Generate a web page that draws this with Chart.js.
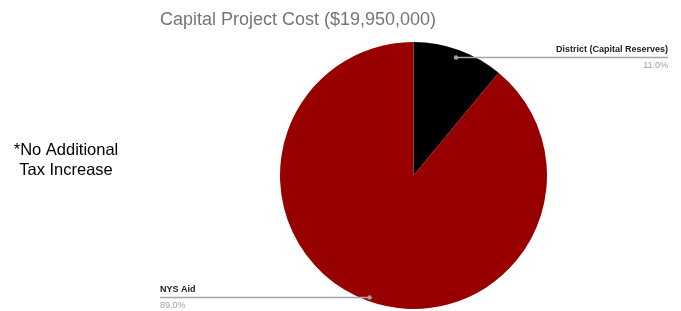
<!DOCTYPE html>
<html>
<head>
<meta charset="utf-8">
<script src="https://cdn.jsdelivr.net/npm/chart.js@4.4.1/dist/chart.umd.min.js"></script>
<style>
html,body{margin:0;padding:0;background:#fff;}
#wrap{position:relative;width:681px;height:311px;}
</style>
</head>
<body>
<div id="wrap"><canvas id="c" width="681" height="311"></canvas></div>
<script>
const chartTitle = 'Capital Project Cost ($19,950,000)';
const categories = ['District (Capital Reserves)', 'NYS Aid'];
const values = [11.0, 89.0];
const sliceColors = ['#000000', '#980000'];
const noteLines = ['*No Additional', 'Tax Increase'];

const FONT = '"Liberation Sans", Arial, sans-serif';

const overlay = {
  id: 'overlay',
  afterDraw(chart) {
    const ctx = chart.ctx;
    ctx.save();
    // title
    ctx.fillStyle = '#757575';
    ctx.font = '18px ' + FONT;
    ctx.textAlign = 'center';
    ctx.textBaseline = 'middle';
    ctx.fillText(chartTitle, 298, 20);
    // note
    ctx.fillStyle = '#000';
    ctx.font = '16.5px ' + FONT;
    ctx.fillText(noteLines[0], 66, 150);
    ctx.fillText(noteLines[1], 66, 170);

    // leader labels
    const meta = chart.getDatasetMeta(0);
    const total = values.reduce((a, b) => a + b, 0);
    meta.data.forEach((arc, i) => {
      const mid = (arc.startAngle + arc.endAngle) / 2;
      const right = Math.cos(mid) > 0;
      const r = arc.outerRadius * (right ? 0.94 : 0.97);
      const dotX = arc.x + Math.cos(mid) * r;
      const dotY = Math.round(arc.y + Math.sin(mid) * r) + 0.5;
      const endX = right ? 668 : 160;
      ctx.strokeStyle = '#a6a6a6';
      ctx.lineWidth = 1.5;
      ctx.beginPath();
      ctx.moveTo(dotX, dotY);
      ctx.lineTo(endX, dotY);
      ctx.stroke();
      ctx.fillStyle = '#a0a0a0';
      ctx.beginPath();
      ctx.arc(dotX, dotY, 2.2, 0, Math.PI * 2);
      ctx.fill();
      ctx.textAlign = right ? 'right' : 'left';
      ctx.textBaseline = 'middle';
      ctx.fillStyle = '#222';
      ctx.font = 'bold 9px ' + FONT;
      ctx.fillText(categories[i], endX, dotY - 7.5);
      ctx.fillStyle = '#9e9e9e';
      ctx.font = '9px ' + FONT;
      ctx.fillText((values[i] / total * 100).toFixed(1) + '%', endX, dotY + 8);
    });
    ctx.restore();
  }
};

new Chart(document.getElementById('c'), {
  type: 'pie',
  data: {
    labels: categories,
    datasets: [{
      data: values,
      backgroundColor: sliceColors,
      borderWidth: 0
    }]
  },
  options: {
    responsive: false,
    animation: false,
    layout: { padding: { left: 280, right: 134, top: 42, bottom: 2 } },
    plugins: { legend: { display: false }, tooltip: { enabled: false }, title: { display: false } }
  },
  plugins: [overlay]
});
</script>
</body>
</html>
